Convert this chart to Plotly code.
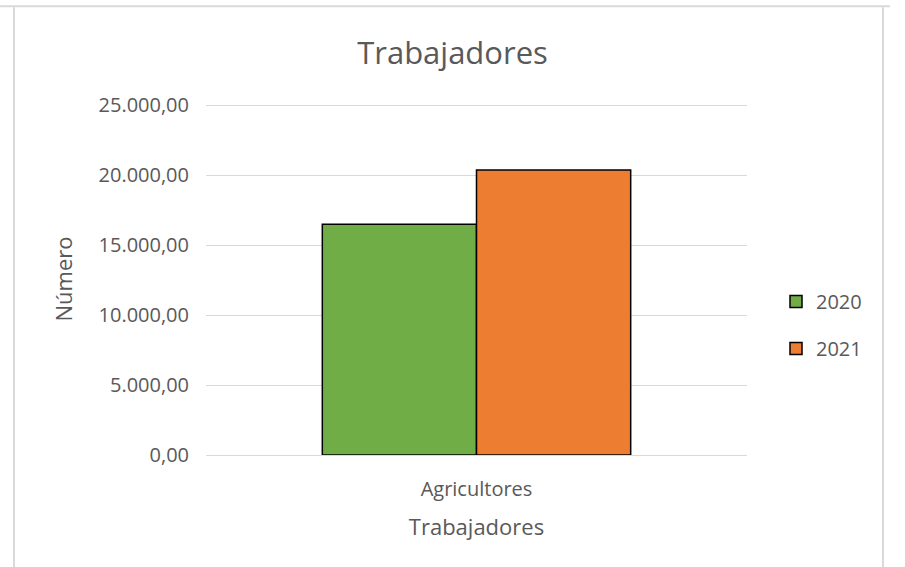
import plotly.graph_objects as go

categorias = ["Agricultores"]
anios = ["2020", "2021"]
valores_2020 = [16480]
valores_2021 = [20360]
colores = ["#70AD47", "#ED7D31"]

fig = go.Figure()
for anio, vals, color in zip(anios, [valores_2020, valores_2021], colores):
    fig.add_trace(go.Bar(
        x=categorias, y=vals, name=anio, legendgroup=anio,
        marker=dict(color=color, line=dict(color="#000000", width=1.5)),
    ))

# plot area: x 206..747, y ~105..455 px (range top a bit above 25000 so its gridline shows)
y_max = 25150
L, R, B = 206, 747, 455
T = B - 350 * y_max / 25000
W, H = R - L, B - T
def px_x(p):
    return (p - L) / W
def px_y(p):
    return (B - p) / H

font = "Open Sans"
gris = "#595959"

fig.update_layout(
    width=905, height=567,
    margin=dict(l=L, r=905 - R, t=T, b=567 - B),
    paper_bgcolor="white", plot_bgcolor="white",
    barmode="group", bargap=0.43, bargroupgap=0,
    font=dict(family=font, color=gris, size=20),
    title=dict(text="Trabajadores", x=0.5, xanchor="center", y=1 - 53 / 567, yanchor="middle",
               font=dict(size=31, color=gris)),
    legend=dict(x=px_x(776), y=px_y(325), xanchor="left", yanchor="middle",
                font=dict(size=20, color=gris), tracegroupgap=18),
    xaxis=dict(title=dict(text="Trabajadores", font=dict(size=22), standoff=18),
               showline=False, ticks="", tickfont=dict(size=20), ticklabelstandoff=20),
    yaxis=dict(title=dict(text="Número", font=dict(size=22), standoff=19),
               range=[0, y_max], tickvals=[0, 5000, 10000, 15000, 20000, 25000], tickformat=",.2f",
               showgrid=True, gridcolor="#D9D9D9", gridwidth=1.3,
               zeroline=True, zerolinecolor="#D9D9D9", zerolinewidth=1.3,
               ticks="", tickfont=dict(size=20), ticklabelstandoff=16),
    separators=",.",
    showlegend=True,
)

# chart frame lines (light gray)
borde = dict(color="#D9D9D9", width=2)
fig.add_shape(type="line", xref="paper", yref="paper",
              x0=px_x(0), x1=px_x(890), y0=px_y(6), y1=px_y(6), line=borde)
fig.add_shape(type="line", xref="paper", yref="paper",
              x0=px_x(14), x1=px_x(14), y0=px_y(7), y1=px_y(567), line=borde)
fig.add_shape(type="line", xref="paper", yref="paper",
              x0=px_x(883), x1=px_x(883), y0=px_y(7), y1=px_y(567), line=borde)

fig.write_html("out.html", config={"displayModeBar": False},
               post_script="document.body.style.margin='0';")
